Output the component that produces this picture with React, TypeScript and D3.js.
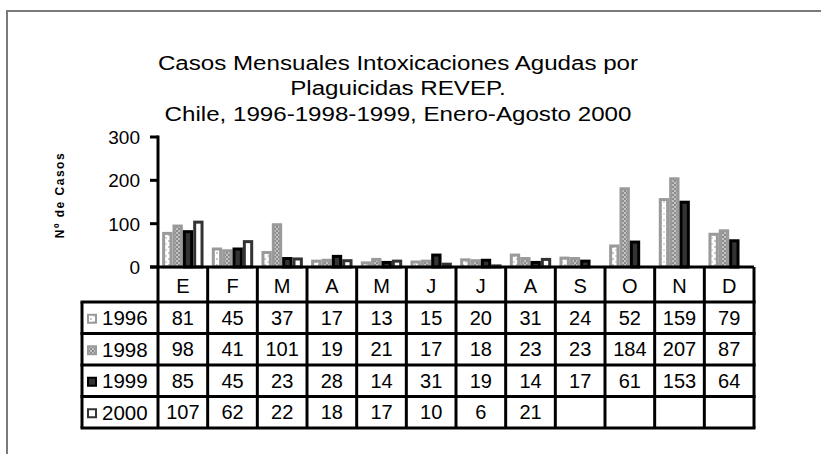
import { useEffect, useRef } from 'react'
import * as d3 from 'd3'

const months = ['E', 'F', 'M', 'A', 'M', 'J', 'J', 'A', 'S', 'O', 'N', 'D']
const years = ['1996', '1998', '1999', '2000']
const cases1996 = [81, 45, 37, 17, 13, 15, 20, 31, 24, 52, 159, 79]
const cases1998 = [98, 41, 101, 19, 21, 17, 18, 23, 23, 184, 207, 87]
const cases1999 = [85, 45, 23, 28, 14, 31, 19, 14, 17, 61, 153, 64]
const cases2000: (number | null)[] = [107, 62, 22, 18, 17, 10, 6, 21, null, null, null, null]
const yTicks = [0, 100, 200, 300]
const titleLines = [
  'Casos Mensuales Intoxicaciones Agudas por',
  'Plaguicidas REVEP.',
  'Chile, 1996-1998-1999, Enero-Agosto 2000',
]

// stroke / fill per series (greyscale like the original print)
const seriesStyle = [
  { stroke: '#9a9a9a', fill: 'url(#pat96)' },
  { stroke: '#9a9a9a', fill: 'url(#pat98)' },
  { stroke: '#000', fill: '#333' },
  { stroke: '#333', fill: '#fff' },
]

const FONT = '"Liberation Sans", Arial, sans-serif'

export default function App() {
  const svgRef = useRef<SVGSVGElement>(null)

  useEffect(() => {
    const svg = d3.select(svgRef.current)
    svg.selectAll('*').remove()

    const series = [cases1996, cases1998, cases1999, cases2000]

    const left = 158, right = 754
    const y0 = 267, yTop = 137
    const tableLeft = 82
    const headerBottom = 302
    const rowH = 31.5

    const x = d3.scaleBand<number>().domain(d3.range(months.length)).range([left, right])
    const bw = x.bandwidth()
    const xi = d3.scaleBand<string>().domain(years).range([0, bw]).paddingOuter(0.4)
    const y = d3.scaleLinear().domain([0, 300]).range([y0, yTop])

    const defs = svg.append('defs')
    const p96 = defs.append('pattern').attr('id', 'pat96').attr('patternUnits', 'userSpaceOnUse')
      .attr('width', 6).attr('height', 6)
    p96.append('rect').attr('width', 6).attr('height', 6).attr('fill', '#fff')
    p96.append('rect').attr('x', 0).attr('y', 0).attr('width', 2).attr('height', 2).attr('fill', '#c8c8c8')
    p96.append('rect').attr('x', 3).attr('y', 3).attr('width', 2).attr('height', 2).attr('fill', '#dcdcdc')
    const p98 = defs.append('pattern').attr('id', 'pat98').attr('patternUnits', 'userSpaceOnUse')
      .attr('width', 4).attr('height', 4)
    p98.append('rect').attr('width', 4).attr('height', 4).attr('fill', '#8a8a8a')
    p98.append('rect').attr('x', 0).attr('y', 0).attr('width', 2).attr('height', 2).attr('fill', '#c4c4c4')
    p98.append('rect').attr('x', 2).attr('y', 2).attr('width', 2).attr('height', 2).attr('fill', '#c4c4c4')

    // outer frame (only top and left edges visible)
    svg.append('rect')
      .attr('x', 7).attr('y', 11).attr('width', 1000).attr('height', 1000)
      .attr('fill', 'none').attr('stroke', '#7a7a7a').attr('stroke-width', 2)

    // title, slightly stretched horizontally like the original export
    const title = svg.append('text')
      .attr('transform', 'translate(398,0) scale(1.15,1)')
      .attr('text-anchor', 'middle')
      .attr('font-family', FONT).attr('font-size', 21).attr('fill', '#000')
    titleLines.forEach((t, i) => {
      title.append('tspan').attr('x', 0).attr('y', 70 + i * 25.5).text(t)
    })

    // y axis label
    svg.append('text')
      .attr('transform', 'translate(64,195) rotate(-90)')
      .attr('text-anchor', 'middle')
      .attr('font-family', FONT).attr('font-size', 12).attr('font-weight', 'bold')
      .attr('letter-spacing', 1.5)
      .text('Nº de Casos')

    // bars
    const g = svg.append('g')
    series.forEach((vals, si) => {
      const st = seriesStyle[si]
      vals.forEach((v, mi) => {
        if (v == null) return
        const bx = (x(mi) ?? 0) + (xi(years[si]) ?? 0)
        const h = y0 - y(v)
        if (h < 1) return
        g.append('rect')
          .attr('x', bx + 1.5).attr('y', y(v) + 1.5)
          .attr('width', xi.bandwidth() - 3).attr('height', Math.max(0, h - 1.5))
          .attr('fill', st.fill).attr('stroke', st.stroke).attr('stroke-width', 3)
      })
    })

    // y axis
    const ax = svg.append('g')
    ax.append('line').attr('x1', left).attr('x2', left).attr('y1', yTop - 1.5).attr('y2', y0)
      .attr('stroke', '#000').attr('stroke-width', 3)
    yTicks.forEach(t => {
      ax.append('line').attr('x1', left - 8).attr('x2', left).attr('y1', y(t)).attr('y2', y(t))
        .attr('stroke', '#000').attr('stroke-width', 3)
      ax.append('text').attr('x', 140).attr('y', y(t)).attr('dy', '0.36em')
        .attr('text-anchor', 'end').attr('font-family', FONT).attr('font-size', 19)
        .text(t)
    })

    // data table
    const tb = svg.append('g')
    const lineAttr = (sel: any) => sel.attr('stroke', '#000').attr('stroke-width', 3)
    const tableBottom = headerBottom + rowH * years.length
    // axis / header top
    tb.append('line').attr('x1', left - 8).attr('x2', right).attr('y1', y0).attr('y2', y0).call(lineAttr)
    // horizontal row lines
    for (let r = 0; r <= years.length; r++) {
      const yy = headerBottom + r * rowH
      tb.append('line').attr('x1', tableLeft - 1.5).attr('x2', right + 1.5).attr('y1', yy).attr('y2', yy).call(lineAttr)
    }
    // vertical lines
    for (let c = 0; c <= months.length; c++) {
      const xx = left + c * bw
      tb.append('line').attr('x1', xx).attr('x2', xx).attr('y1', y0).attr('y2', tableBottom).call(lineAttr)
    }
    tb.append('line').attr('x1', tableLeft).attr('x2', tableLeft).attr('y1', headerBottom).attr('y2', tableBottom).call(lineAttr)

    // header labels
    months.forEach((m, i) => {
      tb.append('text').attr('x', (x(i) ?? 0) + bw / 2).attr('y', (y0 + headerBottom) / 2 + 1).attr('dy', '0.36em')
        .attr('text-anchor', 'middle').attr('font-family', FONT).attr('font-size', 20).text(m)
    })

    // rows
    years.forEach((yr, r) => {
      const cy = headerBottom + r * rowH + rowH / 2
      const st = seriesStyle[r]
      tb.append('rect').attr('x', 88).attr('y', cy - 3).attr('width', 8).attr('height', 8)
        .attr('fill', st.fill).attr('stroke', st.stroke).attr('stroke-width', 2)
      tb.append('text').attr('x', 102).attr('y', cy).attr('dy', '0.36em')
        .attr('font-family', FONT).attr('font-size', 20.5).text(yr)
      series[r].forEach((v, i) => {
        if (v == null) return
        tb.append('text').attr('x', (x(i) ?? 0) + bw / 2).attr('y', cy).attr('dy', '0.36em')
          .attr('text-anchor', 'middle').attr('font-family', FONT).attr('font-size', 20).text(v)
      })
    })
  }, [])

  return (
    <svg ref={svgRef} width={821} height={454}
      style={{ position: 'absolute', left: 0, top: 0, display: 'block', background: '#fff' }} />
  )
}
